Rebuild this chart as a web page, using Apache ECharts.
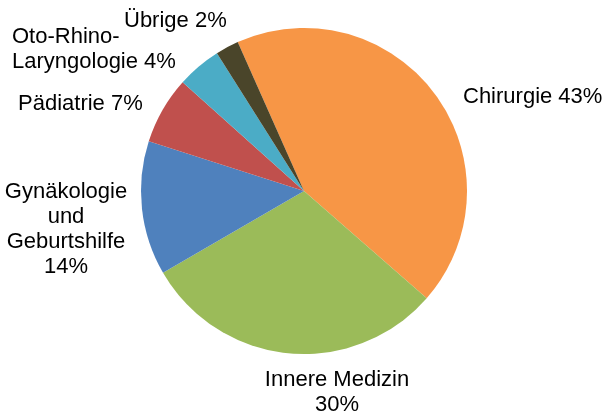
<!DOCTYPE html>
<html>
<head>
<meta charset="utf-8">
<script src="https://cdn.jsdelivr.net/npm/echarts@6/dist/echarts.min.js"></script>
<style>
  html, body { margin: 0; padding: 0; background: #fff; }
  #main { width: 605px; height: 416px; }
</style>
</head>
<body>
<div id="main"></div>
<script>
  // Fachbereiche und Anteile in Prozent (aus den Sektorwinkeln geschaetzt)
  var categories = ['Chirurgie', 'Innere Medizin', 'Gynäkologie und Geburtshilfe', 'Pädiatrie', 'Oto-Rhino-Laryngologie', 'Übrige']
  var values = [43.1, 30.2, 13.3, 6.7, 4.4, 2.3]
  var labelTexts = ['Chirurgie 43%', 'Innere Medizin\n30%', 'Gynäkologie\nund\nGeburtshilfe\n14%', 'Pädiatrie 7%', 'Oto-Rhino-\nLaryngologie 4%', 'Übrige 2%']
  var colors = ['#f79646', '#9bbb59', '#4f81bd', '#c0504d', '#4bacc6', '#4a452a']

  // Label-Platzierung (x, y, Ausrichtung) wie im Original
  var labelSpots = [
    { x: 463, y: 97, align: 'left' },
    { x: 337, y: 392, align: 'center' },
    { x: 66, y: 229, align: 'center' },
    { x: 18, y: 104, align: 'left' },
    { x: 12, y: 49, align: 'left' },
    { x: 124, y: 21, align: 'left' }
  ]

  var chart = echarts.init(document.getElementById('main'))
  var option = {
    animation: false,
    series: [{
      type: 'pie',
      center: [304, 191],
      radius: 163,
      startAngle: 114,
      clockwise: true,
      label: {
        show: true,
        position: 'outside',
        overflow: 'none',
        color: '#000',
        fontFamily: 'Liberation Sans, Arial, sans-serif',
        fontSize: 22,
        lineHeight: 25,
        formatter: function (p) {
          return labelTexts[p.dataIndex]
        }
      },
      labelLine: { show: false },
      labelLayout: function (params) {
        var s = labelSpots[params.dataIndex]
        return { x: s.x, y: s.y, align: s.align, verticalAlign: 'middle' }
      },
      itemStyle: { borderWidth: 0 },
      emphasis: { disabled: true },
      data: categories.map(function (name, i) {
        return {
          name: name,
          value: values[i],
          itemStyle: { color: colors[i] },
          label: { align: labelSpots[i].align }
        }
      })
    }]
  }
  chart.setOption(option)
  window.addEventListener('resize', () => {
    chart.resize()
  })
</script>
</body>
</html>
